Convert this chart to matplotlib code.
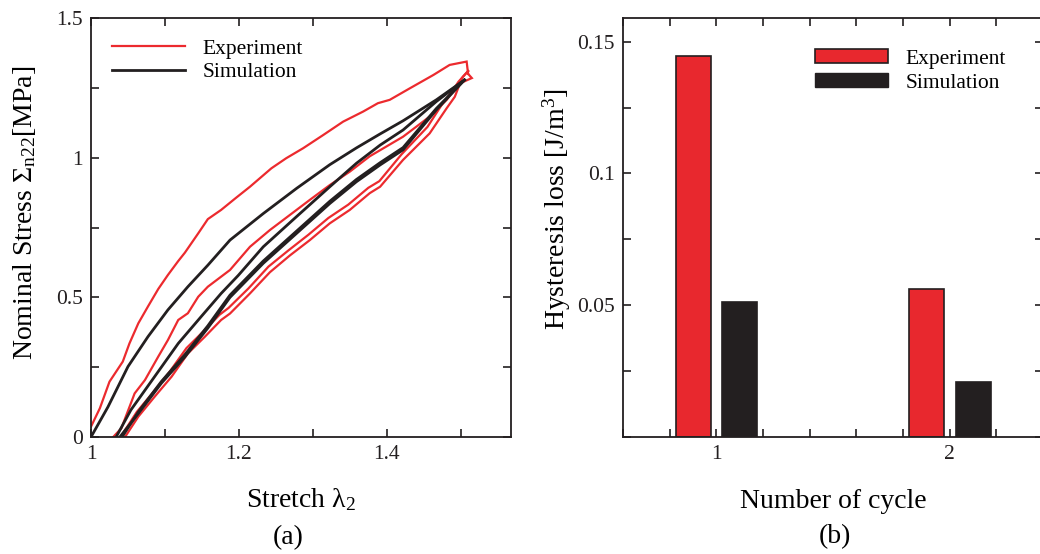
import matplotlib
matplotlib.use("Agg")
import matplotlib.pyplot as plt
from matplotlib.ticker import MultipleLocator, FixedLocator, FixedFormatter
from matplotlib.patches import Patch
from matplotlib.lines import Line2D

plt.rcParams['font.family'] = ['Liberation Serif', 'DejaVu Serif']
plt.rcParams['mathtext.fontset'] = 'custom'
plt.rcParams['mathtext.rm'] = 'Liberation Serif'
plt.rcParams['mathtext.it'] = 'Liberation Serif:italic'

RED = "#ec2a2e"
BLACK = "#231f20"

# (a) experiment: first loading, first unloading, second loading, second unloading
exp_load1_x = [1.000, 1.012, 1.025, 1.043, 1.052, 1.064, 1.077, 1.091, 1.104, 1.118, 1.127, 1.145,
               1.158, 1.176, 1.196, 1.215, 1.244, 1.264, 1.287, 1.314, 1.341, 1.368, 1.388, 1.404,
               1.431, 1.463, 1.485, 1.508, 1.510]
exp_load1_y = [0.037, 0.103, 0.198, 0.270, 0.335, 0.407, 0.467, 0.530, 0.580, 0.630, 0.660, 0.729,
               0.780, 0.813, 0.856, 0.896, 0.962, 0.998, 1.034, 1.081, 1.129, 1.165, 1.195, 1.207,
               1.248, 1.296, 1.332, 1.344, 1.300]

exp_unload1_x = [1.510, 1.515, 1.499, 1.492, 1.481, 1.458, 1.422, 1.391, 1.377, 1.350, 1.323, 1.296,
                 1.269, 1.242, 1.215, 1.188, 1.176, 1.154, 1.131, 1.109, 1.086, 1.064, 1.046]
exp_unload1_y = [1.300, 1.285, 1.266, 1.218, 1.177, 1.087, 0.992, 0.896, 0.873, 0.813, 0.765, 0.705,
                 0.650, 0.590, 0.514, 0.442, 0.419, 0.359, 0.299, 0.216, 0.144, 0.073, 0.000]

exp_load2_x = [1.030, 1.041, 1.059, 1.073, 1.091, 1.104, 1.118, 1.131, 1.145, 1.158, 1.176, 1.188,
               1.215, 1.242, 1.269, 1.296, 1.323, 1.350, 1.377, 1.422, 1.458, 1.481, 1.494, 1.503,
               1.510]
exp_load2_y = [0.000, 0.031, 0.156, 0.204, 0.288, 0.347, 0.419, 0.443, 0.502, 0.538, 0.574, 0.598,
               0.681, 0.741, 0.795, 0.849, 0.902, 0.950, 1.005, 1.075, 1.147, 1.207, 1.254, 1.290,
               1.310]

exp_unload2_x = [1.510, 1.497, 1.488, 1.476, 1.455, 1.420, 1.390, 1.375, 1.348, 1.321, 1.294, 1.267,
                 1.240, 1.213, 1.186, 1.174, 1.152, 1.129, 1.107, 1.084, 1.062, 1.040]
exp_unload2_y = [1.310, 1.272, 1.236, 1.196, 1.110, 1.012, 0.916, 0.892, 0.832, 0.784, 0.724, 0.668,
                 0.610, 0.532, 0.462, 0.438, 0.378, 0.318, 0.236, 0.160, 0.090, 0.000]

# (a) simulation
sim_load1_x = [1.000, 1.023, 1.050, 1.077, 1.104, 1.131, 1.158, 1.188, 1.233, 1.278, 1.323, 1.359,
               1.391, 1.422, 1.467, 1.505]
sim_load1_y = [0.000, 0.108, 0.252, 0.359, 0.455, 0.538, 0.615, 0.705, 0.800, 0.890, 0.975, 1.035,
               1.085, 1.132, 1.207, 1.278]

sim_load2_x = [1.034, 1.054, 1.086, 1.118, 1.149, 1.176, 1.199, 1.233, 1.278, 1.323, 1.359, 1.391,
               1.422, 1.467, 1.505]
sim_load2_y = [0.000, 0.097, 0.216, 0.335, 0.431, 0.514, 0.578, 0.681, 0.789, 0.896, 0.980, 1.045,
               1.099, 1.201, 1.278]

sim_unload1_x = [1.505, 1.467, 1.422, 1.391, 1.359, 1.323, 1.278, 1.233, 1.188, 1.158, 1.127, 1.095,
                 1.064, 1.039]
sim_unload1_y = [1.278, 1.171, 1.028, 0.974, 0.914, 0.836, 0.729, 0.622, 0.500, 0.390, 0.287, 0.192,
                 0.084, 0.000]

sim_unload2_x = [1.505, 1.467, 1.422, 1.391, 1.359, 1.323, 1.278, 1.233, 1.188, 1.158, 1.127, 1.095,
                 1.064, 1.042]
sim_unload2_y = [1.278, 1.176, 1.036, 0.982, 0.922, 0.844, 0.737, 0.630, 0.508, 0.398, 0.295, 0.198,
                 0.090, 0.000]

# (b) hysteresis loss
cycles = [1, 2]
loss_exp = [0.1444, 0.0562]
loss_sim = [0.0514, 0.0210]

fig = plt.figure(figsize=(10.4, 5.54), dpi=100)
ax1 = fig.add_axes([91/1040, 117/554, 420/1040, 419/554])
ax2 = fig.add_axes([623/1040, 117/554, 420/1040, 419/554])

for xs, ys in [(exp_load1_x, exp_load1_y), (exp_unload1_x, exp_unload1_y),
               (exp_load2_x, exp_load2_y), (exp_unload2_x, exp_unload2_y)]:
    ax1.plot(xs, ys, color=RED, lw=1.6, solid_joinstyle='miter')
for xs, ys in [(sim_load1_x, sim_load1_y), (sim_load2_x, sim_load2_y),
               (sim_unload1_x, sim_unload1_y), (sim_unload2_x, sim_unload2_y)]:
    ax1.plot(xs, ys, color=BLACK, lw=2.0)

ax1.set_xlim(1.0, 1.568)
ax1.set_ylim(0, 1.5)
ax1.xaxis.set_major_locator(FixedLocator([1.0, 1.2, 1.4]))
ax1.xaxis.set_major_formatter(FixedFormatter(["1", "1.2", "1.4"]))
ax1.xaxis.set_minor_locator(MultipleLocator(0.1))
ax1.yaxis.set_major_locator(FixedLocator([0, 0.5, 1.0, 1.5]))
ax1.yaxis.set_major_formatter(FixedFormatter(["0", "0.5", "1", "1.5"]))
ax1.yaxis.set_minor_locator(MultipleLocator(0.25))
ax1.set_xlabel(r"Stretch λ$_2$", fontsize=20, labelpad=16)
ax1.set_ylabel(r"Nominal Stress Σ$_{\mathrm{n22}}$[MPa]", fontsize=20)
ax1.yaxis.set_label_coords(-0.125, 0.535)

ax1.legend(handles=[Line2D([], [], color=RED, lw=1.6), Line2D([], [], color=BLACK, lw=2.0)],
           labels=["Experiment", "Simulation"], loc='upper left',
           bbox_to_anchor=(0.05, 0.95), frameon=False, fontsize=15.5,
           handlelength=3.4, handletextpad=0.8, labelspacing=0.15,
           borderpad=0, borderaxespad=0)

# bars
w = 0.15
ax2.bar([c - 0.1 for c in cycles], loss_exp, width=w, color="#e8282e", edgecolor=BLACK, lw=1.2)
ax2.bar([c + 0.1 for c in cycles], loss_sim, width=w, color=BLACK, edgecolor=BLACK, lw=1.2)
ax2.set_xlim(0.6, 2.4)
ax2.set_ylim(0, 0.159)
ax2.xaxis.set_major_locator(FixedLocator([1, 2]))
ax2.xaxis.set_major_formatter(FixedFormatter(["1", "2"]))
ax2.xaxis.set_minor_locator(MultipleLocator(0.2))
ax2.yaxis.set_major_locator(FixedLocator([0.05, 0.1, 0.15]))
ax2.yaxis.set_major_formatter(FixedFormatter(["0.05", "0.1", "0.15"]))
ax2.yaxis.set_minor_locator(MultipleLocator(0.025))
ax2.set_xlabel("Number of cycle", fontsize=20, labelpad=18)
ax2.set_ylabel(r"Hysteresis loss [J/m$^3$]", fontsize=20)
ax2.yaxis.set_label_coords(-0.118, 0.545)

ax2.legend(handles=[Patch(facecolor="#e8282e", edgecolor=BLACK, lw=1.2),
                    Patch(facecolor=BLACK, edgecolor=BLACK)],
           labels=["Experiment", "Simulation"], loc='upper left',
           bbox_to_anchor=(0.457, 0.925), frameon=False, fontsize=15.5,
           handlelength=3.4, handleheight=0.6, handletextpad=0.8, labelspacing=0.2,
           borderpad=0, borderaxespad=0)

for ax in (ax1, ax2):
    for s in ax.spines.values():
        s.set_linewidth(1.3)
        s.set_color(BLACK)
    ax.tick_params(which='both', direction='in', top=True, right=True,
                   length=6, width=1.2, color=BLACK, labelsize=15.5, labelcolor=BLACK, pad=6)

fig.text(288/1040, 1 - 538/554, "(a)", fontsize=20, ha='center', va='center')
fig.text(835/1040, 1 - 537/554, "(b)", fontsize=20, ha='center', va='center')

fig.savefig("out.png", dpi=100)
